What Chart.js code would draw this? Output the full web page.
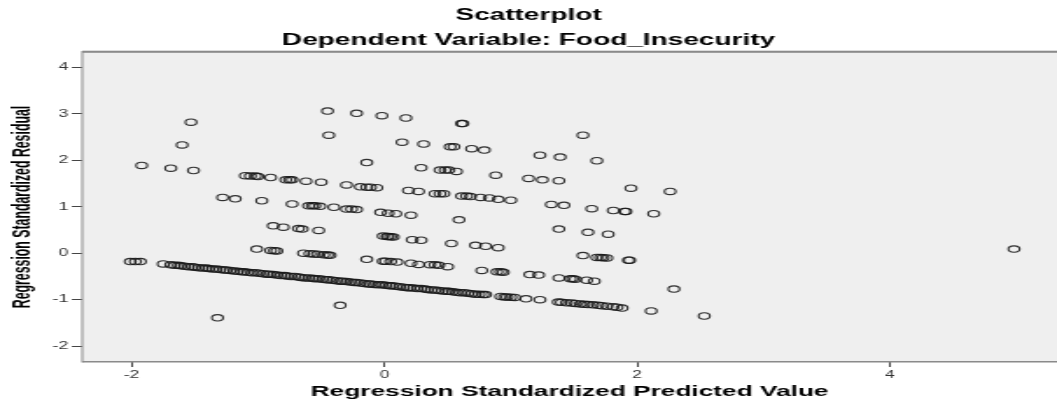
<!DOCTYPE html>
<html>
<head>
<meta charset="utf-8">
<script src="https://cdn.jsdelivr.net/npm/chart.js@4.4.1/dist/chart.umd.min.js"></script>
<style>
  html, body { margin: 0; padding: 0; background: #ffffff; overflow: hidden; }
  #c { display: block; width: 1057px; height: 404px; }
</style>
</head>
<body>
<canvas id="c" width="604" height="404" style="width:1057px;height:404px;"></canvas>
<script>
// ---------- text ----------
const chartTitle = 'Scatterplot';
const chartSubtitle = 'Dependent Variable: Food_Insecurity';
const xAxisTitle = 'Regression Standardized Predicted Value';
const yAxisTitle = 'Regression Standardized Residual';

// ---------- tick labels ----------
const xTicks = [-2, 0, 2, 4];
const yTicks = [-2, -1, 0, 1, 2, 3, 4];

// ---------- data: [predicted, residual] ----------
const highPoints = [
  [-1.53, 2.82], [-1.60, 2.33], [-0.45, 3.06], [-0.22, 3.01], [-0.02, 2.96], [0.17, 2.91],
  [0.61, 2.79], [0.62, 2.79], [-0.44, 2.54], [0.14, 2.39], [0.31, 2.35], [0.52, 2.29],
  [0.55, 2.29], [0.69, 2.25], [0.79, 2.22], [1.57, 2.54], [1.23, 2.11], [1.39, 2.07],
  [1.68, 1.99], [-0.14, 1.95]
];
const upperRow = [
  [-1.92, 1.89], [-1.69, 1.83], [-1.51, 1.78], [-1.10, 1.67], [-1.06, 1.66], [-1.02, 1.66],
  [-1.00, 1.65], [-0.90, 1.63], [-0.78, 1.58], [-0.75, 1.58], [-0.73, 1.58], [-0.62, 1.55],
  [-0.50, 1.53], [-0.30, 1.47], [-0.19, 1.43], [-0.14, 1.42], [-0.11, 1.42], [-0.06, 1.41],
  [0.29, 1.84], [0.44, 1.79], [0.48, 1.79], [0.51, 1.79], [0.57, 1.76], [0.88, 1.68],
  [0.19, 1.35], [0.27, 1.33], [0.40, 1.28], [0.44, 1.28], [0.47, 1.28], [0.61, 1.23],
  [0.65, 1.23], [0.68, 1.22], [0.76, 1.20], [0.83, 1.19], [0.90, 1.16], [1.00, 1.14],
  [1.14, 1.61], [1.25, 1.58], [1.38, 1.56], [1.95, 1.40], [2.26, 1.33]
];
const oneRow = [
  [-1.28, 1.20], [-1.18, 1.17], [-0.97, 1.13], [-0.73, 1.06], [-0.60, 1.02], [-0.57, 1.02],
  [-0.55, 1.02], [-0.51, 1.01], [-0.40, 0.99], [-0.30, 0.95], [-0.26, 0.95], [-0.22, 0.94],
  [-0.03, 0.88], [0.03, 0.86], [0.09, 0.85], [0.21, 0.82], [1.32, 1.05], [1.42, 1.03],
  [1.64, 0.96], [1.81, 0.92], [1.90, 0.90], [1.91, 0.90], [2.13, 0.85], [0.59, 0.72]
];
const halfRow = [
  [-0.88, 0.59], [-0.80, 0.56], [-0.68, 0.53], [-0.65, 0.52], [-0.52, 0.49],
  [-0.01, 0.37], [0.02, 0.36], [0.03, 0.36], [0.05, 0.355], [0.07, 0.35],
  [0.22, 0.29], [0.29, 0.28], [0.53, 0.21], [0.72, 0.17], [0.80, 0.15], [0.90, 0.12],
  [1.38, 0.52], [1.61, 0.45], [1.77, 0.41]
];
const zeroRow = [
  [-2.01, -0.18], [-1.97, -0.18], [-1.93, -0.18], [-1.75, -0.23],
  [-1.01, 0.09], [-0.90, 0.06], [-0.87, 0.055], [-0.85, 0.05],
  [-0.64, 0.00], [-0.59, -0.01], [-0.56, -0.015], [-0.53, -0.02], [-0.48, -0.035],
  [-0.45, -0.04], [-0.43, -0.045], [-0.14, -0.13], [-0.01, -0.17], [0.01, -0.17],
  [0.05, -0.18], [0.10, -0.19], [0.21, -0.215], [0.27, -0.24], [0.36, -0.245],
  [0.40, -0.25], [0.43, -0.26], [0.50, -0.29], [0.77, -0.37], [0.89, -0.40],
  [0.92, -0.40], [0.94, -0.41], [1.15, -0.46], [1.22, -0.47], [1.38, -0.53],
  [1.47, -0.55], [1.49, -0.55], [1.51, -0.56], [1.60, -0.58], [1.66, -0.60],
  [1.57, -0.05], [1.68, -0.09], [1.71, -0.09], [1.73, -0.095], [1.76, -0.10],
  [1.93, -0.15], [1.94, -0.15], [2.29, -0.77], [4.98, 0.09]
];
const bandPoints = [
  [-1.69, -0.25], [-1.66, -0.26], [-1.63, -0.26], [-1.61, -0.27], [-1.58, -0.28], [-1.55, -0.29],
  [-1.52, -0.29], [-1.50, -0.30], [-1.47, -0.31], [-1.44, -0.32], [-1.41, -0.32], [-1.39, -0.33],
  [-1.36, -0.34], [-1.33, -0.34], [-1.30, -0.35], [-1.27, -0.36], [-1.25, -0.36], [-1.22, -0.37],
  [-1.19, -0.38], [-1.16, -0.39], [-1.13, -0.40], [-1.11, -0.40], [-1.08, -0.41], [-1.05, -0.42],
  [-1.02, -0.42], [-0.99, -0.43], [-0.96, -0.44], [-0.93, -0.45], [-0.91, -0.45], [-0.88, -0.46],
  [-0.85, -0.47], [-0.82, -0.48], [-0.79, -0.48], [-0.77, -0.49], [-0.74, -0.50], [-0.71, -0.50],
  [-0.68, -0.51], [-0.66, -0.52], [-0.63, -0.53], [-0.60, -0.53], [-0.57, -0.54], [-0.55, -0.55],
  [-0.52, -0.55], [-0.49, -0.56], [-0.46, -0.57], [-0.44, -0.57], [-0.41, -0.58], [-0.38, -0.59],
  [-0.35, -0.60], [-0.33, -0.60], [-0.30, -0.61], [-0.27, -0.62], [-0.24, -0.63], [-0.22, -0.63],
  [-0.19, -0.64], [-0.16, -0.65], [-0.13, -0.66], [-0.11, -0.66], [-0.08, -0.67], [-0.05, -0.68],
  [-0.02, -0.68], [0.01, -0.69], [0.04, -0.70], [0.06, -0.70], [0.09, -0.71], [0.12, -0.72],
  [0.15, -0.73], [0.18, -0.74], [0.20, -0.74], [0.23, -0.75], [0.26, -0.76], [0.29, -0.76],
  [0.32, -0.77], [0.34, -0.78], [0.37, -0.79], [0.40, -0.79], [0.43, -0.80], [0.46, -0.81],
  [0.49, -0.82], [0.51, -0.82], [0.54, -0.83], [0.57, -0.84], [0.60, -0.85], [0.63, -0.85],
  [0.66, -0.86], [0.69, -0.87], [0.72, -0.88], [0.75, -0.88], [0.78, -0.89], [0.80, -0.89],
  [0.92, -0.93], [0.95, -0.94], [0.97, -0.94], [1.00, -0.945], [1.03, -0.95], [1.12, -0.98],
  [1.23, -1.00], [1.375, -1.05], [1.40, -1.055], [1.44, -1.065], [1.48, -1.07], [1.51, -1.08],
  [1.55, -1.09], [1.58, -1.10], [1.61, -1.105], [1.65, -1.11], [1.69, -1.12], [1.72, -1.13],
  [1.76, -1.14], [1.81, -1.15], [1.84, -1.16], [1.88, -1.18], [2.11, -1.24], [2.53, -1.35]
];
const lowPoints = [
  [-1.32, -1.39], [-0.35, -1.12]
];

// ---------- build chart ----------
const allPoints = [].concat(highPoints, upperRow, oneRow, halfRow, zeroRow, bandPoints, lowPoints)
  .map(p => ({ x: p[0], y: p[1] }));

const baseFont = '"Liberation Sans", Arial, sans-serif';

const plotFrame = {
  id: 'plotFrame',
  beforeDraw(chart) {
    const { ctx, chartArea: a } = chart;
    ctx.save();
    ctx.fillStyle = '#efefef';
    ctx.fillRect(a.left, a.top, a.right - a.left, a.bottom - a.top);
    ctx.restore();
    // condense the vertical axis title along its reading direction
    const ys = chart.scales.y;
    if (ys && !ys._condensed) {
      const orig = ys.drawTitle.bind(ys);
      ys.drawTitle = function () {
        const c = this.ctx;
        const cy = (this.top + this.bottom) / 2;
        c.save();
        c.translate(0, cy);
        c.scale(1, 0.82);
        c.translate(0, -cy);
        orig();
        c.restore();
      };
      ys._condensed = true;
    }
  },
  beforeDatasetsDraw(chart) {
    const { ctx, chartArea: a } = chart;
    ctx.save();
    ctx.fillStyle = '#dcdcdc';
    ctx.fillRect(a.left, a.top - 2, a.right - a.left, 1);
    ctx.fillStyle = '#8a8a8a';
    ctx.fillRect(a.left, a.top - 1, a.right - a.left, 1.8);
    ctx.fillRect(a.left - 0.5, a.top - 1, 1, a.bottom - a.top + 1.5);
    ctx.fillRect(a.left, a.bottom - 1, a.right - a.left, 1.5);
    ctx.restore();
  }
};

new Chart(document.getElementById('c'), {
  type: 'scatter',
  data: {
    datasets: [{
      label: 'Residuals',
      data: allPoints,
      pointStyle: 'circle',
      pointRadius: 3.2,
      pointHoverRadius: 3.2,
      borderWidth: 1.1,
      pointBorderWidth: 1.1,
      borderColor: 'rgba(25,25,25,0.9)',
      pointBorderColor: 'rgba(25,25,25,0.9)',
      backgroundColor: 'rgba(0,0,0,0)',
      pointBackgroundColor: 'rgba(0,0,0,0)'
    }]
  },
  options: {
    responsive: false,
    animation: false,
    devicePixelRatio: 1,
    layout: { padding: 0, autoPadding: false },
    events: [],
    plugins: {
      legend: { display: false },
      tooltip: { enabled: false },
      title: {
        display: true,
        text: chartTitle,
        color: '#000',
        font: { family: baseFont, size: 16, weight: 'bold', lineHeight: '25px' },
        padding: { top: 3, bottom: 0 }
      },
      subtitle: {
        display: true,
        text: chartSubtitle,
        color: '#000',
        font: { family: baseFont, size: 16, weight: 'bold', lineHeight: '22px' },
        padding: { top: 2, bottom: 0 }
      }
    },
    scales: {
      x: {
        type: 'linear',
        position: 'bottom',
        min: -2.39,
        max: 5.32,
        afterBuildTicks(scale) { scale.ticks = xTicks.map(v => ({ value: v })); },
        afterFit(scale) { scale.height = 42; scale.paddingLeft = 0; scale.paddingRight = 0; },
        ticks: {
          color: '#333',
          font: { family: baseFont, size: 10 },
          padding: 2,
          callback: v => String(v)
        },
        grid: { drawOnChartArea: false, drawTicks: true, tickLength: 5, color: '#444', lineWidth: 1 },
        border: { display: false },
        title: {
          display: true,
          text: xAxisTitle,
          color: '#000',
          font: { family: baseFont, size: 15, weight: 'bold', lineHeight: 1.2 },
          padding: { top: 0, bottom: 3 }
        }
      },
      y: {
        type: 'linear',
        position: 'left',
        min: -2.34,
        max: 4.33,
        afterBuildTicks(scale) { scale.ticks = yTicks.map(v => ({ value: v })); },
        afterFit(scale) { scale.width = 47; scale.paddingTop = 0; scale.paddingBottom = 0; },
        ticks: {
          color: '#333',
          font: { family: baseFont, size: 10 },
          padding: 2,
          callback: v => String(v)
        },
        grid: { drawOnChartArea: false, drawTicks: true, tickLength: 6, color: '#444', lineWidth: 1 },
        border: { display: false },
        title: {
          display: true,
          text: yAxisTitle,
          color: '#000',
          font: { family: baseFont, size: 15, weight: 'bold', lineHeight: 1.2 },
          padding: { top: 4, bottom: 0 }
        }
      }
    }
  },
  plugins: [plotFrame]
});
</script>
</body>
</html>
